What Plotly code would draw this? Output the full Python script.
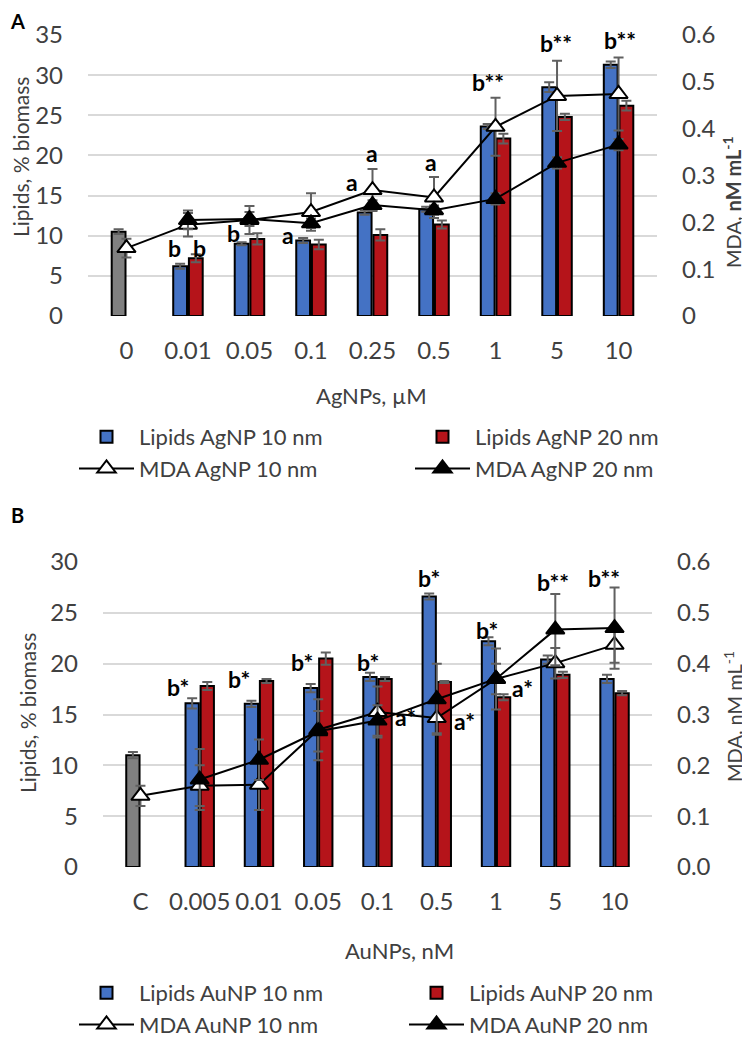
import plotly.graph_objects as go
from plotly.subplots import make_subplots

# ---------------- Panel A: AgNPs ----------------
ag_cats = ["0", "0.01", "0.05", "0.1", "0.25", "0.5", "1", "5", "10"]
ag_ctrl = [10.5, None, None, None, None, None, None, None, None]
ag_ctrl_err = [0.3, None, None, None, None, None, None, None, None]
ag_lip10 = [None, 6.2, 9.0, 9.4, 12.9, 13.3, 23.6, 28.5, 31.3]
ag_lip10_err = [None, 0.3, 0.2, 0.3, 0.3, 0.3, 0.3, 0.6, 0.4]
ag_lip20 = [None, 7.2, 9.6, 8.9, 10.1, 11.4, 22.1, 24.8, 26.2]
ag_lip20_err = [None, 0.5, 0.7, 0.6, 0.7, 0.5, 0.6, 0.4, 0.6]
ag_mda10 = [0.145, 0.195, 0.205, 0.222, 0.269, 0.253, 0.404, 0.470, 0.474]
ag_mda10_err = [0.02, 0.025, 0.03, 0.04, 0.045, 0.044, 0.062, 0.075, 0.078]
ag_mda20 = [None, 0.205, 0.207, 0.198, 0.237, 0.226, 0.250, 0.327, 0.366]
ag_mda20_err = [None, 0.02, 0.015, 0.01, 0.01, 0.01, 0.012, 0.012, 0.012]
ag_ann_cat = ["0.01", "0.01", "0.05", "0.1", "0.25", "0.25", "0.5", "1", "5", "10"]
ag_ann_y = [8.5, 8.5, 10.3, 10.1, 16.7, 20.3, 19.2, 29.1, 34.0, 34.4]
ag_ann_dx = [-13, 12, -16, -23, -21, -1, -3, -8, -1, 1]
ag_ann_txt = ["b", "b", "b", "a", "a", "a", "a", "b**", "b**", "b**"]

# ---------------- Panel B: AuNPs ----------------
au_cats = ["C", "0.005", "0.01", "0.05", "0.1", "0.5", "1", "5", "10"]
au_ctrl = [11.0, None, None, None, None, None, None, None, None]
au_ctrl_err = [0.3, None, None, None, None, None, None, None, None]
au_lip10 = [None, 16.1, 16.05, 17.6, 18.7, 26.6, 22.2, 20.4, 18.5]
au_lip10_err = [None, 0.5, 0.3, 0.4, 0.4, 0.3, 0.4, 0.4, 0.4]
au_lip20 = [None, 17.8, 18.3, 20.5, 18.5, 18.2, 16.7, 18.9, 17.1]
au_lip20_err = [None, 0.4, 0.2, 0.6, 0.2, 0.1, 0.3, 0.3, 0.2]
au_mda10 = [0.14, 0.16, 0.162, 0.27, 0.305, 0.293, 0.37, 0.401, 0.437]
au_mda10_err = [0.02, 0.04, 0.05, 0.06, 0.05, 0.03, 0.03, 0.03, 0.035]
au_mda20 = [None, 0.172, 0.211, 0.267, 0.288, 0.330, 0.370, 0.467, 0.470]
au_mda20_err = [None, 0.06, 0.04, 0.04, 0.03, 0.07, 0.06, 0.07, 0.08]
au_ann_cat = ["0.005", "0.01", "0.05", "0.1", "0.1", "0.5", "0.5", "1", "1", "5", "10"]
au_ann_y = [17.7, 18.5, 20.2, 20.2, 14.8, 28.4, 14.4, 23.3, 17.6, 28.0, 28.4]
au_ann_dx = [-22, -20, -16, -10, 28, -8, 28, -9, 26, -2, -11]
au_ann_txt = ["b*", "b*", "b*", "b*", "a*", "b*", "a*", "b*", "a*", "b**", "b**"]

BLUE = "#4472C4"
RED = "#B5141A"
GREY = "#808080"
ERR = "#606060"
TXT = "#404040"
FONT = "Lato"

fig = make_subplots(rows=2, cols=1, specs=[[{"secondary_y": True}], [{"secondary_y": True}]])


def errs(a):
    return dict(type="data", array=a, color=ERR, thickness=2, width=5)


def add_panel(row, cats, ctrl, ctrle, lip10, lip10e, lip20, lip20e, m10, m10e, m20, m20e, names, legend):
    fig.add_trace(go.Bar(x=cats, y=ctrl, name="Control", legend=legend, showlegend=False,
                         offsetgroup="g10",
                         marker=dict(color=GREY, line=dict(color="black", width=2)),
                         error_y=errs(ctrle)),
                  row=row, col=1, secondary_y=False)
    fig.add_trace(go.Bar(x=cats, y=lip10, name=names[0], legend=legend, offsetgroup="g10",
                         marker=dict(color=BLUE, line=dict(color="black", width=2)),
                         error_y=errs(lip10e)),
                  row=row, col=1, secondary_y=False)
    fig.add_trace(go.Bar(x=cats, y=lip20, name=names[1], legend=legend, offsetgroup="g20",
                         marker=dict(color=RED, line=dict(color="black", width=2)),
                         error_y=errs(lip20e)),
                  row=row, col=1, secondary_y=False)
    fig.add_trace(go.Scatter(x=cats, y=m10, name=names[2], legend=legend, mode="lines+markers",
                             line=dict(color="black", width=2),
                             marker=dict(symbol="triangle-up", size=16, color="white",
                                         line=dict(color="black", width=2)),
                             error_y=errs(m10e)),
                  row=row, col=1, secondary_y=True)
    fig.add_trace(go.Scatter(x=cats, y=m20, name=names[3], legend=legend, mode="lines+markers",
                             line=dict(color="black", width=2),
                             marker=dict(symbol="triangle-up", size=16, color="black",
                                         line=dict(color="black", width=2)),
                             error_y=errs(m20e)),
                  row=row, col=1, secondary_y=True)


add_panel(1, ag_cats, ag_ctrl, ag_ctrl_err, ag_lip10, ag_lip10_err, ag_lip20, ag_lip20_err,
          ag_mda10, ag_mda10_err, ag_mda20, ag_mda20_err,
          ["Lipids AgNP 10 nm", "Lipids AgNP 20 nm", "MDA AgNP 10 nm", "MDA AgNP 20 nm"], "legend")
add_panel(2, au_cats, au_ctrl, au_ctrl_err, au_lip10, au_lip10_err, au_lip20, au_lip20_err,
          au_mda10, au_mda10_err, au_mda20, au_mda20_err,
          ["Lipids AuNP 10 nm", "Lipids AuNP 20 nm", "MDA AuNP 10 nm", "MDA AuNP 20 nm"], "legend2")

# the page body has an 8 px margin: size the figure to fit and convert screen px to paper coords
OFF = 8
W, H = 750 - OFF, 1039 - OFF
px = lambda v: (v - OFF) / W
py = lambda v: 1 - (v - OFF) / H

tickfont = dict(family=FONT, size=24, color=TXT)
grid = dict(showgrid=True, gridcolor="#D9D9D9", gridwidth=2, zeroline=False, showline=False,
            ticks="", tickfont=tickfont, ticklabelstandoff=24)
xax = dict(type="category", showgrid=False, showline=False, ticks="", tickfont=tickfont,
           tickangle=0, ticklabelstandoff=18)
yright = dict(range=[0, 0.6], dtick=0.1, showgrid=False, zeroline=False, ticks="",
              tickfont=tickfont, ticklabelstandoff=24)
legfont = dict(family=FONT, size=22, color=TXT)

fig.update_layout(
    width=W, height=H, autosize=False,
    margin=dict(l=0, r=0, t=0, b=0, autoexpand=False),
    paper_bgcolor="white", plot_bgcolor="white",
    barmode="group", bargap=0.49, bargroupgap=0.12,
    font=dict(family=FONT, color=TXT),
    xaxis=dict(domain=[px(88), px(657)], anchor="y", **xax),
    xaxis2=dict(domain=[px(103), px(652)], anchor="y3", **xax),
    yaxis=dict(domain=[py(316), py(35)], range=[0, 35], dtick=5, **grid),
    yaxis2=yright,
    yaxis3=dict(domain=[py(867), py(562)], range=[0, 30], dtick=5, **grid),
    yaxis4=dict(tickformat=".1f", **yright),
    legend=dict(orientation="h", x=px(74), y=py(416), xanchor="left", yanchor="top",
                entrywidth=266, entrywidthmode="pixels", itemwidth=55, tracegroupgap=0,
                font=legfont, bgcolor="rgba(0,0,0,0)", traceorder="normal"),
    legend2=dict(orientation="h", x=px(74), y=py(972), xanchor="left", yanchor="top",
                 entrywidth=260, entrywidthmode="pixels", itemwidth=55, tracegroupgap=0,
                 font=legfont, bgcolor="rgba(0,0,0,0)", traceorder="normal"),
)

ann = []
for c, yv, dx, t in zip(ag_ann_cat, ag_ann_y, ag_ann_dx, ag_ann_txt):
    ann.append(dict(x=ag_cats.index(c), y=yv, xref="x", yref="y", text=f"<b>{t}</b>",
                    showarrow=False, xshift=dx, font=dict(family=FONT, size=23, color="black")))
for c, yv, dx, t in zip(au_ann_cat, au_ann_y, au_ann_dx, au_ann_txt):
    ann.append(dict(x=au_cats.index(c), y=yv, xref="x2", yref="y3", text=f"<b>{t}</b>",
                    showarrow=False, xshift=dx, font=dict(family=FONT, size=23, color="black")))


def ptext(x, y, text, size=21, angle=0, color=TXT):
    ann.append(dict(x=px(x), y=py(y), xref="paper", yref="paper", text=text, showarrow=False,
                    textangle=angle, xanchor="center", yanchor="middle",
                    font=dict(family=FONT, size=size, color=color)))


ptext(17, 21, "<b>A</b>", size=20, color="black")
ptext(17, 515, "<b>B</b>", size=20, color="black")
ptext(21, 157, "Lipids, % biomass", angle=-90)
ptext(732, 202, "MDA, <b>nM mL<sup>-1</sup></b>", size=20, angle=-90)
ptext(371, 395, "AgNPs, µM", size=22)
ptext(27, 713, "Lipids, % biomass", angle=-90)
ptext(733, 717, "MDA, nM mL<sup>-1</sup>", size=20, angle=-90)
ptext(399, 950, "AuNPs, nM", size=22)

fig.update_layout(annotations=ann)
fig.write_html("out.html")
